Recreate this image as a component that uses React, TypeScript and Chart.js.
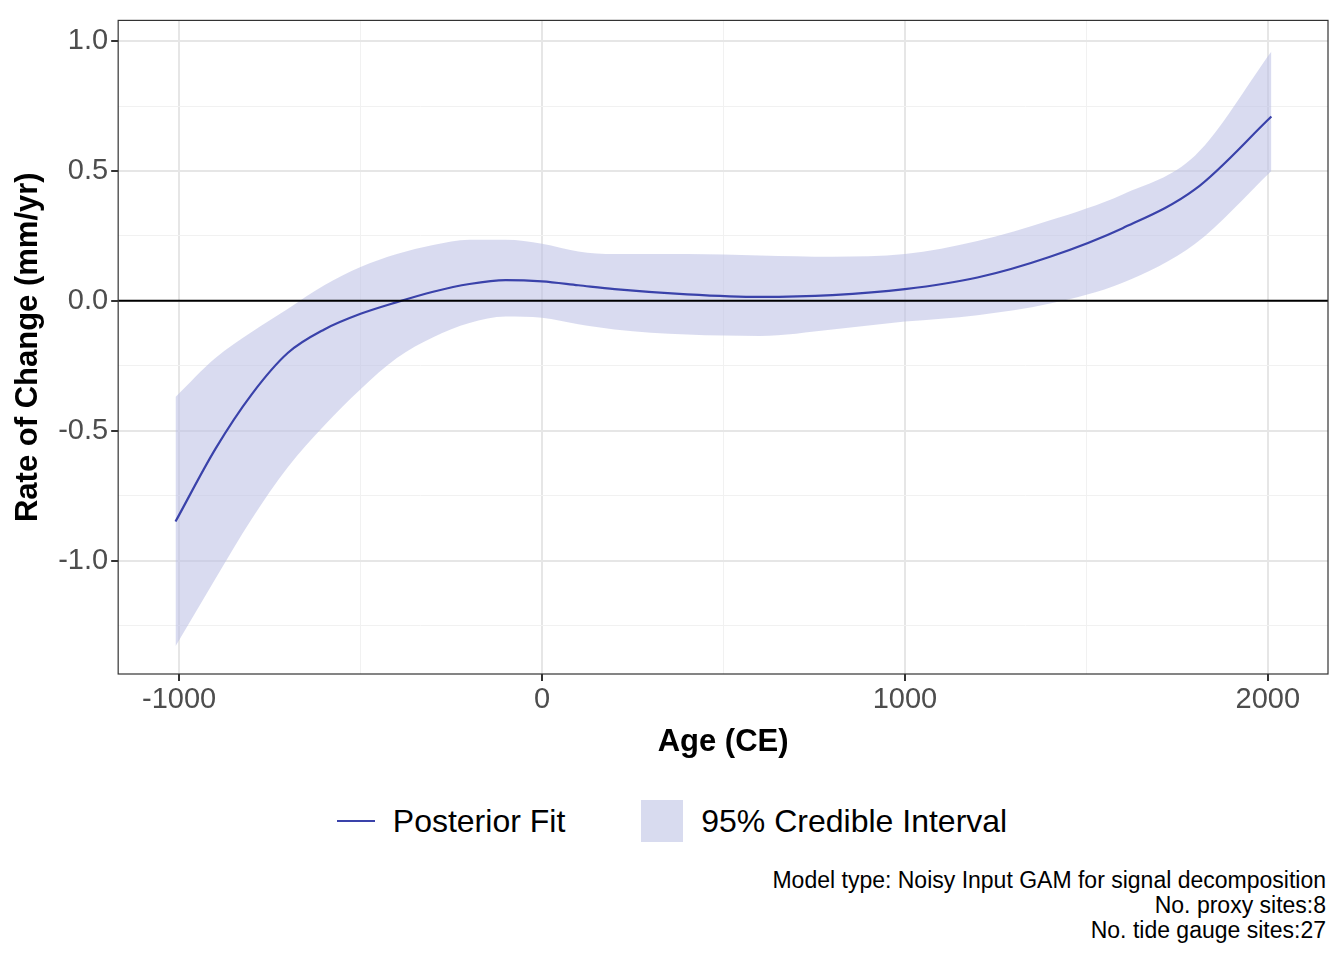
import { useEffect, useRef } from "react";
import { Chart, registerables } from "chart.js";

Chart.register(...registerables);

const years = [-1010, -900, -800, -700, -600, -500, -400, -300, -200, -100, 0, 100, 200, 400, 600, 800, 1000, 1200, 1400, 1600, 1800, 2010];
const fitValues = [-0.85, -0.57, -0.36, -0.2, -0.11, -0.05, -0.005, 0.035, 0.065, 0.08, 0.075, 0.06, 0.045, 0.025, 0.015, 0.022, 0.045, 0.09, 0.17, 0.28, 0.43, 0.71];
const upperValues = [-0.37, -0.22, -0.12, -0.03, 0.06, 0.13, 0.18, 0.215, 0.235, 0.235, 0.22, 0.19, 0.18, 0.18, 0.175, 0.17, 0.18, 0.23, 0.31, 0.41, 0.56, 0.96];
const lowerValues = [-1.33, -1.07, -0.84, -0.64, -0.48, -0.34, -0.22, -0.14, -0.085, -0.06, -0.065, -0.09, -0.11, -0.13, -0.135, -0.11, -0.08, -0.055, -0.01, 0.07, 0.22, 0.5];
const xTicks = [-1000, -500, 0, 500, 1000, 1500, 2000];
const yTicks = [-1.25, -1.0, -0.75, -0.5, -0.25, 0, 0.25, 0.5, 0.75, 1.0];
const captionLines = ["Model type: Noisy Input GAM for signal decomposition", "No. proxy sites:8", "No. tide gauge sites:27"];

const FONT = "'Liberation Sans', Arial, sans-serif";
const LINE = "#3a42aa";
const BAND = "rgba(185,190,228,0.55)";

const isMajorY = (v: number) => Math.abs(v * 2 - Math.round(v * 2)) < 1e-6;

const panel = {
  id: "panel",
  afterDatasetsDraw(chart: Chart) {
    const { ctx, chartArea: a, scales } = chart;
    const y0 = scales.y.getPixelForValue(0);
    ctx.save();
    ctx.strokeStyle = "#000";
    ctx.lineWidth = 2;
    ctx.beginPath();
    ctx.moveTo(a.left, y0);
    ctx.lineTo(a.right, y0);
    ctx.stroke();
    ctx.strokeStyle = "#333";
    ctx.lineWidth = 1.2;
    ctx.strokeRect(a.left, a.top, a.right - a.left, a.bottom - a.top);
    ctx.restore();
  },
};

export default function App() {
  const canvasRef = useRef<HTMLCanvasElement>(null);

  useEffect(() => {
    if (!canvasRef.current) return;
    const toXY = (v: number[]) => years.map((x, i) => ({ x, y: v[i] }));
    const chart = new Chart(canvasRef.current, {
      type: "line",
      data: {
        datasets: [
          { data: toXY(fitValues), borderWidth: 2.2, pointRadius: 0, cubicInterpolationMode: "monotone", fill: false, borderColor: LINE },
          { data: toXY(lowerValues), borderWidth: 0, pointRadius: 0, cubicInterpolationMode: "monotone", fill: false, borderColor: "transparent" },
          { data: toXY(upperValues), borderWidth: 0, pointRadius: 0, cubicInterpolationMode: "monotone", fill: 1, backgroundColor: BAND, borderColor: "transparent" },
        ],
      },
      options: {
        animation: false,
        responsive: false,
        layout: { padding: { top: 15, right: 16, left: 6 } },
        plugins: { legend: { display: false }, tooltip: { enabled: false } },
        scales: {
          x: {
            type: "linear",
            min: -1168,
            max: 2166,
            afterBuildTicks: (s: any) => { s.ticks = xTicks.map((value) => ({ value })); },
            ticks: {
              callback: (v: any) => (v % 1000 === 0 ? String(v) : ""),
              color: "#4d4d4d",
              font: { family: FONT, size: 29 },
              maxRotation: 0,
              padding: 2,
            },
            grid: {
              color: (c: any) => (c.tick && c.tick.value % 1000 === 0 ? "#e6e6e6" : "#f1f1f1"),
              lineWidth: (c: any) => (c.tick && c.tick.value % 1000 === 0 ? 2 : 1),
              tickColor: (c: any) => (c.tick && c.tick.value % 1000 === 0 ? "#333" : "transparent"),
              tickLength: 7,
            },
            border: { display: false },
            title: { display: true, text: "Age (CE)", color: "#000", font: { family: FONT, size: 31, weight: "bold" }, padding: { top: 4 } },
          },
          y: {
            min: -1.437,
            max: 1.08,
            afterBuildTicks: (s: any) => { s.ticks = yTicks.map((value) => ({ value })); },
            ticks: {
              callback: (v: any) => (isMajorY(v) ? Number(v).toFixed(1) : ""),
              color: "#4d4d4d",
              font: { family: FONT, size: 29 },
              padding: 3,
            },
            grid: {
              color: (c: any) => (c.tick && isMajorY(c.tick.value) ? "#e6e6e6" : "#f1f1f1"),
              lineWidth: (c: any) => (c.tick && isMajorY(c.tick.value) ? 2 : 1),
              tickColor: (c: any) => (c.tick && isMajorY(c.tick.value) ? "#333" : "transparent"),
              tickLength: 7,
            },
            border: { display: false },
            title: { display: true, text: "Rate of Change (mm/yr)", color: "#000", font: { family: FONT, size: 31, weight: "bold" }, padding: { bottom: 8 } },
          },
        },
      },
      plugins: [panel],
    });
    return () => chart.destroy();
  }, []);

  return (
    <div style={{ position: "absolute", left: 0, top: 0, width: 1344, height: 960, background: "#fff", fontFamily: FONT }}>
      <canvas ref={canvasRef} width={1344} height={765} />
      <div style={{ position: "absolute", top: 800, left: 0, width: 1344, display: "flex", justifyContent: "center", alignItems: "center", fontSize: 32, color: "#000" }}>
        <span style={{ display: "inline-block", width: 38, height: 2.5, background: LINE, marginRight: 18 }} />
        <span style={{ marginRight: 76 }}>Posterior Fit</span>
        <span style={{ display: "inline-block", width: 42, height: 42, background: "#d8dbef", marginRight: 18 }} />
        <span>95% Credible Interval</span>
      </div>
      <div style={{ position: "absolute", top: 868, right: 18, textAlign: "right", fontSize: 23, lineHeight: "25px", color: "#000" }}>
        {captionLines.map((l) => (
          <div key={l}>{l}</div>
        ))}
      </div>
    </div>
  );
}
